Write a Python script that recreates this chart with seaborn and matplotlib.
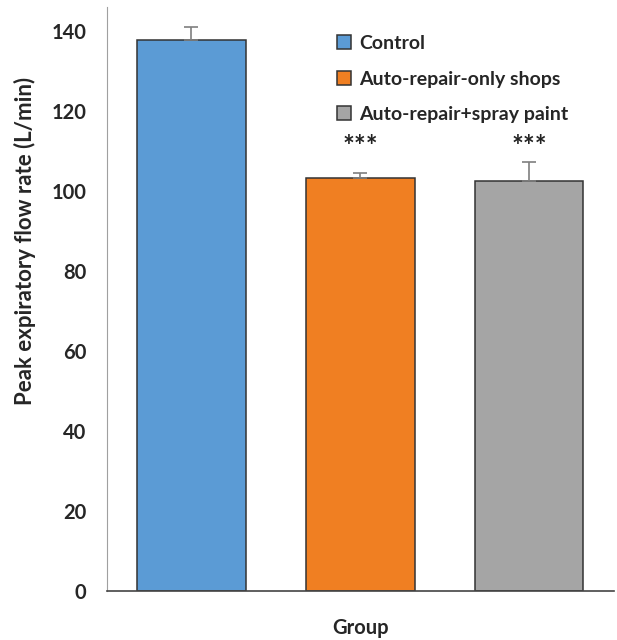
import numpy as np
import pandas as pd
import matplotlib
matplotlib.use("Agg")
import matplotlib.pyplot as plt
import seaborn as sns

groups = ["Control", "Auto-repair-only shops", "Auto-repair+spray paint"]
means = [137.8, 103.2, 102.5]
errors = [3.2, 1.4, 4.8]
stars = ["", "***", "***"]
colors = ["#5B9BD5", "#F07F22", "#A5A5A5"]

sns.set_style("white")
plt.rcParams["font.family"] = ["Lato", "DejaVu Sans"]

data = pd.DataFrame({"Group": groups, "PEFR": means})

fig = plt.figure(figsize=(6.17, 6.4), dpi=100)
ax = fig.add_axes([0.1734, 0.0766, 0.8216, 0.9124])

sns.barplot(data=data, x="Group", y="PEFR", hue="Group", palette=colors, saturation=1,
            width=0.64, edgecolor="#333333", linewidth=1.1, legend=False, ax=ax)

# upper error bars only
ax.errorbar(np.arange(len(groups)), means, yerr=[np.zeros(len(errors)), errors],
            fmt="none", ecolor="#7f7f7f", elinewidth=1.2, capsize=5, capthick=1.2)

# significance marks
for i, s in enumerate(stars):
    if s:
        ax.text(i, 111, s, ha="center", va="center",
                fontsize=20, fontweight="bold", color="#222222")

ax.set_ylim(0, 146)
ax.set_xlim(-0.5, 2.5)
ax.set_yticks(range(0, 141, 20))
ax.set_xticks([-0.5, 0.5, 1.5, 2.5])
ax.set_xticklabels([])
ax.tick_params(axis="y", labelsize=14.5, length=5, width=1, color="#a0a0a0",
               direction="out", pad=10)
ax.tick_params(axis="x", length=8, width=1.2, color="#444444", direction="out")
for lab in ax.get_yticklabels():
    lab.set_fontweight("bold")
ax.set_ylabel("Peak expiratory flow rate (L/min)", fontsize=16, fontweight="bold")
ax.yaxis.set_label_coords(-0.14, 0.6)
ax.set_xlabel("Group", fontsize=14.5, fontweight="bold")
ax.xaxis.set_label_coords(0.5, -0.047)

sns.despine(ax=ax, top=True, right=True)
ax.spines["left"].set_color("#a0a0a0")
ax.spines["bottom"].set_color("#444444")
ax.spines["bottom"].set_linewidth(1.2)

handles = [plt.Rectangle((0, 0), 1, 1, facecolor=c, edgecolor="#333333", linewidth=1.1) for c in colors]
ax.legend(handles, groups, loc="upper left", bbox_to_anchor=(0.42, 0.982), frameon=False,
          prop={"size": 14, "weight": "bold"}, handlelength=0.7, handleheight=0.7,
          handletextpad=0.4, labelspacing=0.95)

fig.savefig("out.png", dpi=100)
